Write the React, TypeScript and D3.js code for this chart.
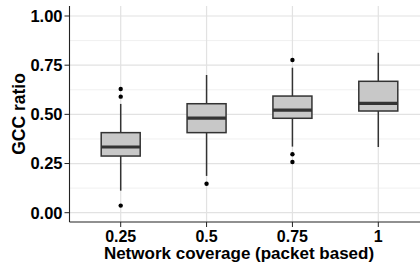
import { useEffect, useRef } from "react";
import * as d3 from "d3";

// catégories et statistiques des boîtes
const categories = ["0.25", "0.5", "0.75", "1"];
const whiskerLow = [0.112, 0.187, 0.336, 0.334];
const q1 = [0.288, 0.407, 0.48, 0.517];
const median = [0.334, 0.481, 0.521, 0.556];
const q3 = [0.407, 0.554, 0.593, 0.668];
const whiskerHigh = [0.553, 0.70, 0.737, 0.813];
const outliers = [[0.629, 0.59, 0.036], [0.147], [0.776, 0.297, 0.258], []];
const yTicks = [0, 0.25, 0.5, 0.75, 1];
const yMinor = [0.125, 0.375, 0.625, 0.875];

const width = 420;
const height = 267;
const panel = { left: 69.5, top: 6, right: 440, bottom: 222 };
const font = "'Liberation Sans', Arial, sans-serif";

const drawChart = (node: SVGSVGElement) => {
    const svg = d3.select(node);
    svg.selectAll("*").remove();

    const x = d3.scalePoint<string>()
        .domain(categories)
        .range([120.7, 378.3]);

    const y = d3.scaleLinear()
        .domain([0, 1])
        .range([212.7, 16]);

    const boxW = 39;

    // grille
    const grid = svg.append("g");
    grid.selectAll(".minor")
        .data(yMinor)
        .join("line")
        .attr("x1", panel.left).attr("x2", panel.right)
        .attr("y1", d => y(d)).attr("y2", d => y(d))
        .attr("stroke", "#f0f0f0").attr("stroke-width", 1);
    grid.selectAll(".major")
        .data(yTicks)
        .join("line")
        .attr("x1", panel.left).attr("x2", panel.right)
        .attr("y1", d => y(d)).attr("y2", d => y(d))
        .attr("stroke", "#e2e2e2").attr("stroke-width", 1.2);
    grid.selectAll(".vmajor")
        .data(categories)
        .join("line")
        .attr("x1", d => x(d)!).attr("x2", d => x(d)!)
        .attr("y1", panel.top).attr("y2", panel.bottom)
        .attr("stroke", "#e2e2e2").attr("stroke-width", 1.2);

    // boîtes
    const boxes = svg.append("g")
        .selectAll("g")
        .data(categories)
        .join("g")
        .attr("transform", d => `translate(${x(d)},0)`);

    boxes.append("line")
        .attr("y1", (_, i) => y(whiskerHigh[i]))
        .attr("y2", (_, i) => y(whiskerLow[i]))
        .attr("stroke", "#333333").attr("stroke-width", 1.5);

    boxes.append("rect")
        .attr("x", -boxW / 2)
        .attr("width", boxW)
        .attr("y", (_, i) => y(q3[i]))
        .attr("height", (_, i) => y(q1[i]) - y(q3[i]))
        .attr("fill", "#c8c8c8")
        .attr("stroke", "#333333").attr("stroke-width", 1.5);

    boxes.append("line")
        .attr("x1", -boxW / 2).attr("x2", boxW / 2)
        .attr("y1", (_, i) => y(median[i]))
        .attr("y2", (_, i) => y(median[i]))
        .attr("stroke", "#333333").attr("stroke-width", 3.2);

    boxes.selectAll("circle")
        .data((_, i) => outliers[i])
        .join("circle")
        .attr("r", 2.2)
        .attr("cy", d => y(d))
        .attr("fill", "black");

    // axes
    svg.append("line")
        .attr("x1", panel.left).attr("x2", panel.left)
        .attr("y1", panel.top).attr("y2", panel.bottom)
        .attr("stroke", "#222").attr("stroke-width", 1.1);
    svg.append("line")
        .attr("x1", panel.left).attr("x2", panel.right)
        .attr("y1", panel.bottom).attr("y2", panel.bottom)
        .attr("stroke", "#222").attr("stroke-width", 1.1);

    const yAxis = svg.append("g");
    yAxis.selectAll("line")
        .data(yTicks)
        .join("line")
        .attr("x1", panel.left - 5).attr("x2", panel.left)
        .attr("y1", d => y(d)).attr("y2", d => y(d))
        .attr("stroke", "#222");
    yAxis.selectAll("text")
        .data(yTicks)
        .join("text")
        .attr("x", panel.left - 7)
        .attr("y", d => y(d))
        .attr("dy", "0.36em")
        .attr("text-anchor", "end")
        .attr("font-family", font)
        .attr("font-weight", "bold")
        .attr("font-size", 16.5)
        .attr("fill", "black")
        .text(d => d3.format(".2f")(d));

    const xAxis = svg.append("g");
    xAxis.selectAll("line")
        .data(categories)
        .join("line")
        .attr("x1", d => x(d)!).attr("x2", d => x(d)!)
        .attr("y1", panel.bottom).attr("y2", panel.bottom + 5)
        .attr("stroke", "#222");
    xAxis.selectAll("text")
        .data(categories)
        .join("text")
        .attr("x", d => x(d)!)
        .attr("y", 242)
        .attr("text-anchor", "middle")
        .attr("font-family", font)
        .attr("font-weight", "bold")
        .attr("font-size", 16)
        .attr("fill", "black")
        .text(d => d);

    // titres
    svg.append("text")
        .attr("x", 239)
        .attr("y", 259)
        .attr("text-anchor", "middle")
        .attr("font-family", font)
        .attr("font-weight", "bold")
        .attr("font-size", 17)
        .attr("fill", "black")
        .text("Network coverage (packet based)");

    svg.append("text")
        .attr("transform", `translate(25,${(panel.top + panel.bottom) / 2}) rotate(-90)`)
        .attr("text-anchor", "middle")
        .attr("font-family", font)
        .attr("font-weight", "bold")
        .attr("font-size", 17.5)
        .attr("fill", "black")
        .text("GCC ratio");
};

export default function App() {
    const ref = useRef<SVGSVGElement>(null);

    useEffect(() => {
        if (ref.current) drawChart(ref.current);
    }, []);

    return (
        <svg
            ref={ref}
            width={width}
            height={height}
            style={{ position: "absolute", left: 0, top: 0, background: "white" }}
        />
    );
}
